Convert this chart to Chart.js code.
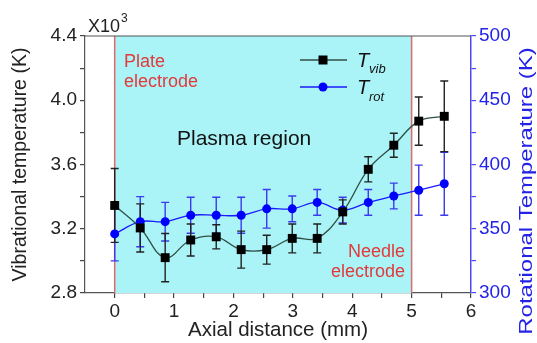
<!DOCTYPE html>
<html><head><meta charset="utf-8">
<script src="https://cdn.jsdelivr.net/npm/chart.js@4.4.1/dist/chart.umd.min.js"></script>
<style>html,body{margin:0;padding:0;background:#fff}canvas{display:block}</style>
</head><body>
<canvas id="c" width="537" height="343"></canvas>
<script>
// ---- data ----
const axialDistance = [0, 0.43, 0.85, 1.28, 1.71, 2.13, 2.56, 2.99, 3.41, 3.84, 4.27, 4.70, 5.12, 5.55];
const tVib    = [3.345, 3.205, 3.02, 3.13, 3.15, 3.07, 3.07, 3.14, 3.14, 3.305, 3.57, 3.72, 3.87, 3.90];
const tVibErr = [0.23, 0.15, 0.15, 0.10, 0.075, 0.115, 0.09, 0.09, 0.09, 0.075, 0.078, 0.075, 0.15, 0.22];
const tRot    = [346, 355.5, 355.5, 360.5, 360.5, 360.5, 365.5, 365.5, 370.5, 364.5, 370.5, 375.5, 380, 385];
const tRotErr = [21, 19.5, 15, 14, 14, 14, 15, 10, 10, 10, 10, 10, 19.5, 24.5];
const xTickLabels = ['0','1','2','3','4','5','6'];
const leftTickLabels = ['2.8','3.2','3.6','4.0','4.4'];
const rightTickLabels = ['300','350','400','450','500'];
const plasmaStart = 0, plasmaEnd = 5;

const FONT = '"Liberation Sans", Arial, sans-serif';
const BLUE = '#2323e8';

const vibPts = axialDistance.map((x, i) => ({x, y: tVib[i]}));
const rotPts = axialDistance.map((x, i) => ({x, y: tRot[i]}));

const decorPlugin = {
  id: 'decor',
  beforeDatasetsDraw(chart) {
    const {ctx, chartArea: a, scales} = chart;
    const xs = scales.x;
    const x0 = xs.getPixelForValue(plasmaStart), x5 = xs.getPixelForValue(plasmaEnd);
    ctx.save();
    ctx.fillStyle = '#aaf4f8';
    ctx.fillRect(x0, a.top, x5 - x0, a.bottom - a.top);
    ctx.strokeStyle = '#e06a6a';
    ctx.lineWidth = 1.5;
    [x0, x5].forEach(px => { ctx.beginPath(); ctx.moveTo(px, a.top); ctx.lineTo(px, a.bottom); ctx.stroke(); });
    // top frame
    ctx.strokeStyle = '#555';
    ctx.lineWidth = 1.2;
    ctx.beginPath(); ctx.moveTo(a.left, a.top); ctx.lineTo(a.right, a.top); ctx.stroke();
    // error bars
    const drawErr = (vals, errs, ys, color) => {
      ctx.strokeStyle = color; ctx.lineWidth = 1.4;
      vals.forEach((v, i) => {
        const px = xs.getPixelForValue(axialDistance[i]);
        const pHi = ys.getPixelForValue(v + errs[i]);
        const pLo = ys.getPixelForValue(v - errs[i]);
        ctx.beginPath();
        ctx.moveTo(px, pHi); ctx.lineTo(px, pLo);
        ctx.moveTo(px - 4, pHi); ctx.lineTo(px + 4, pHi);
        ctx.moveTo(px - 4, pLo); ctx.lineTo(px + 4, pLo);
        ctx.stroke();
      });
    };
    drawErr(tRot, tRotErr, scales.y2, '#3a3af0');
    drawErr(tVib, tVibErr, scales.y, '#222');
    ctx.restore();
  },
  afterDraw(chart) {
    const {ctx} = chart;
    ctx.save();
    ctx.textBaseline = 'alphabetic';
    // annotations
    ctx.fillStyle = '#e23a3a';
    ctx.font = '18px ' + FONT;
    ctx.textAlign = 'left';
    ctx.fillText('Plate', 124, 67);
    ctx.fillText('electrode', 124, 87);
    ctx.textAlign = 'right';
    ctx.fillText('Needle', 405, 257);
    ctx.fillText('electrode', 405, 277);
    ctx.textAlign = 'left';
    ctx.fillStyle = '#111';
    ctx.font = '21px ' + FONT;
    ctx.fillText('Plasma region', 177, 145);
    // X10^3
    ctx.fillStyle = '#222';
    ctx.font = '18px ' + FONT;
    ctx.fillText('X10', 88, 32);
    const w = ctx.measureText('X10').width;
    ctx.font = '12px ' + FONT;
    ctx.fillText('3', 88 + w + 1, 22);
    // legend
    const leg = (y, lineColor, ptColor, rect, sub, subY) => {
      ctx.strokeStyle = lineColor; ctx.lineWidth = 1.3;
      ctx.beginPath(); ctx.moveTo(300, y); ctx.lineTo(347, y); ctx.stroke();
      ctx.fillStyle = ptColor;
      if (rect) ctx.fillRect(323 - 4.5, y - 4.5, 9, 9);
      else { ctx.beginPath(); ctx.arc(323, y, 4.5, 0, Math.PI * 2); ctx.fill(); }
      ctx.fillStyle = '#111';
      ctx.font = 'italic 20px ' + FONT;
      ctx.fillText('T', 357, y + 7);
      ctx.font = 'italic 13px ' + FONT;
      ctx.fillText(sub, 369, subY);
    };
    leg(60, '#2f4f44', '#000', true, 'vib', 73);
    leg(87, '#1a1aff', '#0000ff', false, 'rot', 101);
    // right axis title (reads bottom to top)
    ctx.fillStyle = BLUE;
    ctx.font = '18px ' + FONT;
    ctx.translate(527, 191);
    ctx.rotate(-Math.PI / 2);
    ctx.scale(1.33, 1);
    ctx.textAlign = 'center';
    ctx.textBaseline = 'middle';
    ctx.fillText('Rotational Temperature (K)', 0, 0);
    ctx.restore();
  }
};

new Chart(document.getElementById('c'), {
  type: 'line',
  data: {
    datasets: [
      { label: 'Tvib', data: vibPts, yAxisID: 'y', borderColor: '#2f4f44', borderWidth: 1.3,
        pointStyle: 'rect', pointRadius: 6.3, pointBackgroundColor: '#000', pointBorderColor: '#000', pointBorderWidth: 0,
        tension: 0.4, fill: false, order: 1 },
      { label: 'Trot', data: rotPts, yAxisID: 'y2', borderColor: '#1a1aff', borderWidth: 1.3,
        pointStyle: 'circle', pointRadius: 4.5, pointBackgroundColor: '#0000ff', pointBorderColor: '#0000ff', pointBorderWidth: 0,
        tension: 0.4, fill: false, order: 2 }
    ]
  },
  options: {
    responsive: false, animation: false, devicePixelRatio: 1,
    layout: { padding: { top: 36, left: 0, right: 0, bottom: 0 } },
    plugins: { legend: { display: false }, tooltip: { enabled: false } },
    scales: {
      x: {
        type: 'linear', min: -0.5, max: 6,
        afterBuildTicks: s => { const t = []; for (let v = 0; v <= 12; v++) t.push({ value: v / 2 }); s.ticks = t; },
        afterFit: s => { s.height = 50; },
        ticks: { autoSkip: false, maxRotation: 0, padding: 2, color: '#222', font: { family: FONT, size: 19 },
          callback: v => Number.isInteger(v) ? xTickLabels[v] : '' },
        grid: { drawOnChartArea: false, tickLength: 5, color: '#444', lineWidth: 1.2 },
        border: { color: '#555', width: 1.2 },
        title: { display: true, text: 'Axial distance (mm)', color: '#222', font: { family: FONT, size: 20.5 }, padding: { top: 0, bottom: 0 } }
      },
      y: {
        type: 'linear', position: 'left', min: 2.8, max: 4.4,
        afterBuildTicks: s => { const t = []; for (let k = 0; k <= 8; k++) t.push({ value: 2.8 + k * 0.2 }); s.ticks = t; },
        afterFit: s => { s.width = 85; },
        ticks: { autoSkip: false, padding: 3, color: '#222', font: { family: FONT, size: 19 },
          callback: (v, i) => i % 2 === 0 ? leftTickLabels[i / 2] : '' },
        grid: { drawOnChartArea: false, tickLength: 5, color: '#444', lineWidth: 1.2 },
        border: { color: '#555', width: 1.2 },
        title: { display: true, text: 'Vibrational temperature (K)', color: '#222', font: { family: FONT, size: 19.5 }, padding: { top: 9, bottom: 0 } }
      },
      y2: {
        type: 'linear', position: 'right', min: 300, max: 500,
        afterBuildTicks: s => { const t = []; for (let k = 0; k <= 8; k++) t.push({ value: 300 + k * 25 }); s.ticks = t; },
        afterFit: s => { s.width = 66; },
        ticks: { autoSkip: false, padding: 3, color: BLUE, font: { family: FONT, size: 19 },
          callback: (v, i) => i % 2 === 0 ? rightTickLabels[i / 2] : '' },
        grid: { drawOnChartArea: false, tickLength: 5, color: '#4a4af5', lineWidth: 1.2 },
        border: { color: '#4a4af5', width: 1.5 },
        title: { display: false }
      }
    }
  },
  plugins: [decorPlugin]
});
</script>
</body></html>
